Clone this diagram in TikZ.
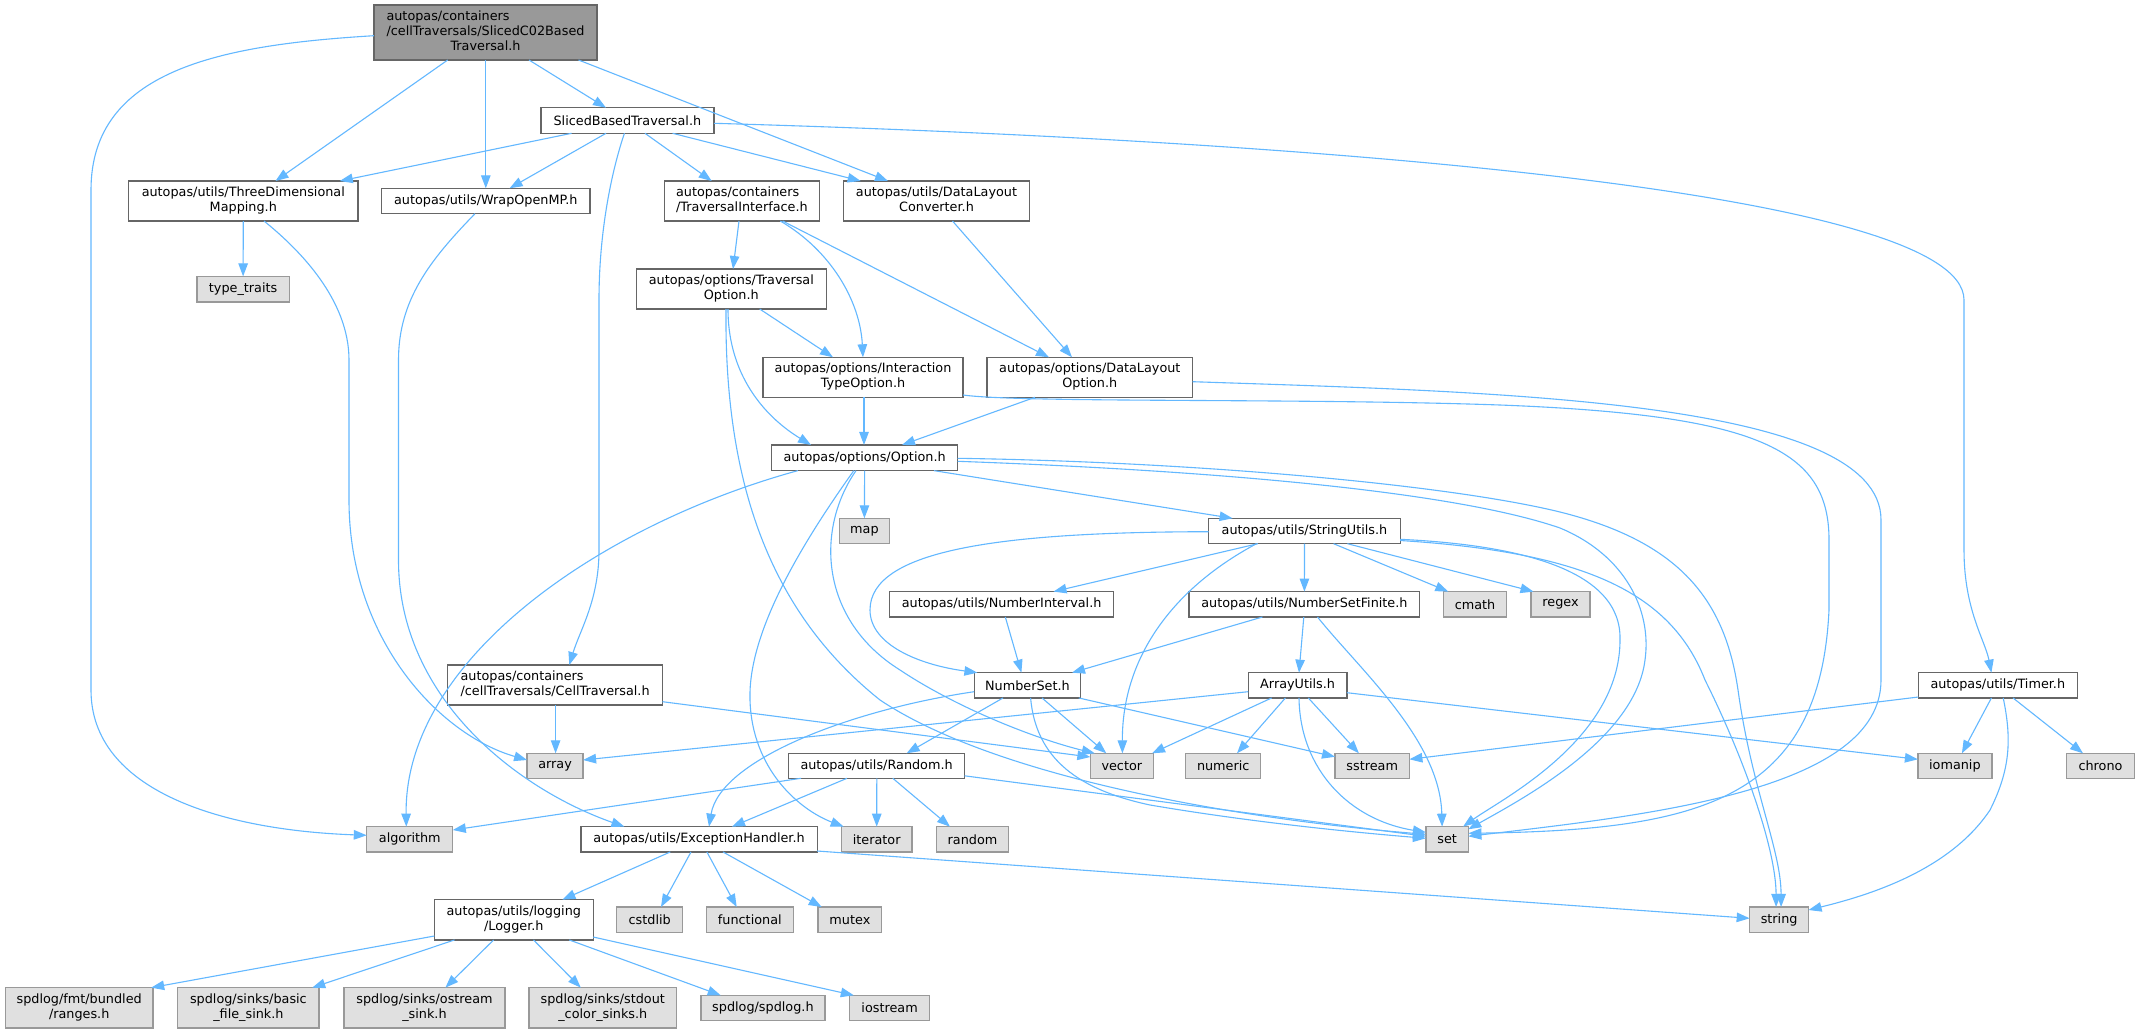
\documentclass[tikz,border=0pt]{standalone}
\usepackage{fontspec}
\setmainfont{DejaVu Sans}
\usetikzlibrary{arrows.meta}
\definecolor{eblue}{HTML}{63B8FF}
\definecolor{bordc}{HTML}{666666}
\definecolor{extb}{HTML}{999999}
\definecolor{extf}{HTML}{E0E0E0}
\definecolor{rootf}{HTML}{999999}
\newcommand{\nf}{\fontsize{12.8pt}{15pt}\selectfont}
\newcommand{\twol}[2]{\begin{tabular}{@{}l@{}}#1\\\multicolumn{1}{@{}c@{}}{#2}\end{tabular}}
\newcommand{\threel}[3]{\begin{tabular}{@{}l@{}}#1\\#2\\\multicolumn{1}{@{}c@{}}{#3}\end{tabular}}
\begin{document}
\begin{tikzpicture}[x=1pt,y=-1pt,
  nbox/.style={draw=bordc, fill=white, line width=1.3pt, inner sep=0pt, font=\nf, text=black},
  xbox/.style={nbox, draw=extb, fill=extf},
  rootn/.style={nbox, fill=rootf},
  wh/.style 2 args={minimum width=#1pt, minimum height=#2pt},
  dep/.style={draw=eblue, line width=1.1pt, -{Triangle[length=13pt,width=9.5pt]}}]
\fill[white] (0,0) rectangle (2139,1033);
\path[use as bounding box] (0,0) rectangle (2139,1033);

% nodes
\node[rootn, wh={223}{55}] (root) at (485.5,32.5) {\threel{autopas/containers}{/cellTraversals/SlicedC02Based}{Traversal.h}};
\node[nbox, wh={173}{25.6}] (sliced) at (627.4,120.5) {SlicedBasedTraversal.h};
\node[nbox, wh={229.5}{40}] (threeD) at (243.3,201) {\twol{autopas/utils/ThreeDimensional}{Mapping.h}};
\node[nbox, wh={208.5}{25.4}] (wrap) at (485.8,201) {autopas/utils/WrapOpenMP.h};
\node[nbox, wh={155}{40}] (travIf) at (741.9,201) {\twol{autopas/containers}{/TraversalInterface.h}};
\node[nbox, wh={185.5}{40}] (dlConv) at (936.5,201) {\twol{autopas/utils/DataLayout}{Converter.h}};
\node[xbox, wh={92.3}{25.7}] (typeTr) at (243.1,289.2) {type\_traits};
\node[nbox, wh={190}{40}] (travOpt) at (731.3,289) {\twol{autopas/options/Traversal}{Option.h}};
\node[nbox, wh={200}{40}] (interOpt) at (863,377.3) {\twol{autopas/options/Interaction}{TypeOption.h}};
\node[nbox, wh={205.6}{40}] (dlOpt) at (1089.8,377.3) {\twol{autopas/options/DataLayout}{Option.h}};
\node[nbox, wh={186}{25.7}] (option) at (864.6,457.8) {autopas/options/Option.h};
\node[xbox, wh={50.5}{25.4}] (map) at (864.4,531) {map};
\node[nbox, wh={191.5}{25.4}] (strUt) at (1304.5,531) {autopas/utils/StringUtils.h};
\node[nbox, wh={224}{25.4}] (numInt) at (1001.6,604.3) {autopas/utils/NumberInterval.h};
\node[nbox, wh={230.8}{25.4}] (numSF) at (1304.4,604.3) {autopas/utils/NumberSetFinite.h};
\node[xbox, wh={63}{25.4}] (cmath) at (1475,604.3) {cmath};
\node[xbox, wh={59}{25.4}] (regex) at (1560.5,604.3) {regex};
\node[nbox, wh={214.8}{40}] (cellTr) at (555.1,685) {\twol{autopas/containers}{/cellTraversals/CellTraversal.h}};
\node[nbox, wh={106.5}{25.3}] (numSet) at (1027.4,685.3) {NumberSet.h};
\node[nbox, wh={98.7}{25.3}] (arrUt) at (1297.6,685.3) {ArrayUtils.h};
\node[nbox, wh={158.8}{25.3}] (timer) at (1997.8,685.3) {autopas/utils/Timer.h};
\node[xbox, wh={56}{25}] (array) at (555.1,765.8) {array};
\node[nbox, wh={175.9}{25}] (randomH) at (876.6,765.8) {autopas/utils/Random.h};
\node[xbox, wh={62.9}{25}] (vector) at (1121.8,765.8) {vector};
\node[xbox, wh={74.8}{25}] (numeric) at (1223.2,765.8) {numeric};
\node[xbox, wh={74.4}{25}] (sstream) at (1372.2,765.8) {sstream};
\node[xbox, wh={74}{25}] (iomanip) at (1954.9,765.8) {iomanip};
\node[xbox, wh={67.4}{25}] (chrono) at (2100.5,765.8) {chrono};
\node[xbox, wh={86}{25.3}] (algorithm) at (409.8,839.3) {algorithm};
\node[nbox, wh={236.3}{25.3}] (excH) at (699,839.3) {autopas/utils/ExceptionHandler.h};
\node[xbox, wh={70.7}{25.3}] (iterator) at (876.7,839.3) {iterator};
\node[xbox, wh={72}{25.3}] (randomStd) at (972.5,839.3) {random};
\node[xbox, wh={42.4}{25.3}] (set) at (1447.1,839.3) {set};
\node[nbox, wh={158.9}{40.3}] (logger) at (513.8,919.8) {\twol{autopas/utils/logging}{/Logger.h}};
\node[xbox, wh={66}{25.6}] (cstdlib) at (649.7,919.8) {cstdlib};
\node[xbox, wh={86.8}{25.6}] (functional) at (749.8,919.8) {functional};
\node[xbox, wh={63.8}{25.6}] (mutex) at (849.9,919.8) {mutex};
\node[xbox, wh={58.9}{25.6}] (string) at (1779.1,919.8) {string};
\node[xbox, wh={147.4}{40.3}] (ranges) at (79.2,1007.8) {\twol{spdlog/fmt/bundled}{/ranges.h}};
\node[xbox, wh={141.4}{40.3}] (basic) at (248.4,1007.8) {\twol{spdlog/sinks/basic}{\_file\_sink.h}};
\node[xbox, wh={161.2}{40.3}] (ostream) at (424.5,1007.8) {\twol{spdlog/sinks/ostream}{\_sink.h}};
\node[xbox, wh={147.9}{40.3}] (stdout) at (602.8,1007.8) {\twol{spdlog/sinks/stdout}{\_color\_sinks.h}};
\node[xbox, wh={124}{25.4}] (spdlog) at (762.9,1008) {spdlog/spdlog.h};
\node[xbox, wh={80}{25.4}] (iostream) at (889.6,1008) {iostream};

% edges from root
\draw[dep] ([shift={(-111.5,3.2)}]root.center) .. controls (220,45) and (91,70) .. (91,190) -- (91,690) .. controls (91,790) and (220,830) .. ([shift={(-43,-4)}]algorithm.center);
\draw[dep] ([shift={(-37.8,27.5)}]root.center) -- ([shift={(32.2,-20)}]threeD.center);
\draw[dep] ([shift={(0.3,27.5)}]root.center) -- ([shift={(0,-12.7)}]wrap.center);
\draw[dep] ([shift={(43.5,27.5)}]root.center) -- ([shift={(-21.4,-12.8)}]sliced.center);
\draw[dep] ([shift={(93,27.5)}]root.center) -- ([shift={(-48.5,-20)}]dlConv.center);

% SlicedBasedTraversal
\draw[dep] ([shift={(-55.8,12.8)}]sliced.center) -- ([shift={(96.5,-20)}]threeD.center);
\draw[dep] ([shift={(-21.4,12.8)}]sliced.center) -- ([shift={(23.8,-12.7)}]wrap.center);
\draw[dep] ([shift={(17.6,12.8)}]sliced.center) -- ([shift={(-30.2,-20)}]travIf.center);
\draw[dep] ([shift={(45.2,12.8)}]sliced.center) -- ([shift={(-75.8,-20)}]dlConv.center);
\draw[dep] ([shift={(-3,12.8)}]sliced.center) .. controls (612,170) and (599,230) .. (599,300) -- (599,550) .. controls (599,600) and (580,630) .. ([shift={(14.2,-20)}]cellTr.center);
\draw[dep] ([shift={(86.6,2.8)}]sliced.center) .. controls (1300,140) and (1964,190) .. (1964,300) -- (1964,550) .. controls (1964,610) and (1985,640) .. ([shift={(-6.4,-12.65)}]timer.center);

% ThreeDimensionalMapping, WrapOpenMP
\draw[dep] ([shift={(0,20)}]threeD.center) -- ([shift={(0,-12.85)}]typeTr.center);
\draw[dep] ([shift={(20.7,20)}]threeD.center) .. controls (300,250) and (349,300) .. (349,360) -- (349,500) .. controls (349,640) and (440,735) .. ([shift={(-28,-5.8)}]array.center);
\draw[dep] ([shift={(-10.8,12.7)}]wrap.center) .. controls (430,260) and (398.5,300) .. (398.5,360) -- (398.5,560) .. controls (398.5,700) and (520,790) .. ([shift={(-74.6,-12.65)}]excH.center);

% TraversalInterface, DataLayoutConverter
\draw[dep] ([shift={(-2.9,20)}]travIf.center) -- ([shift={(1.7,-20)}]travOpt.center);
\draw[dep] ([shift={(38.4,20)}]travIf.center) .. controls (830,250) and (860,300) .. ([shift={(0,-20)}]interOpt.center);
\draw[dep] ([shift={(40.7,20)}]travIf.center) -- ([shift={(-40.8,-20)}]dlOpt.center);
\draw[dep] ([shift={(16,20)}]dlConv.center) -- ([shift={(-17.8,-20)}]dlOpt.center);

% TraversalOption
\draw[dep] ([shift={(28.4,20)}]travOpt.center) -- ([shift={(-30,-20)}]interOpt.center);
\draw[dep] ([shift={(-3.3,20)}]travOpt.center) .. controls (728,380) and (770,420) .. ([shift={(-53.6,-12.85)}]option.center);
\draw[dep] ([shift={(-5.3,20)}]travOpt.center) .. controls (724,500) and (780,620) .. (880,700) .. controls (1000,780) and (1250,820) .. ([shift={(-21.2,-5)}]set.center);

% InteractionTypeOption, DataLayoutOption
\draw[dep] ([shift={(1,20)}]interOpt.center) -- ([shift={(-0.6,-12.85)}]option.center);
\draw[dep] ([shift={(100.1,17.7)}]interOpt.center) .. controls (1020,403) and (1300,398) .. (1500,405) .. controls (1760,415) and (1829,450) .. (1829,540) -- (1829,610) .. controls (1820,800) and (1700,830) .. ([shift={(21.2,-6)}]set.center);
\draw[dep] ([shift={(-54.8,20)}]dlOpt.center) -- ([shift={(37.4,-12.85)}]option.center);
\draw[dep] ([shift={(102.8,4.4)}]dlOpt.center) .. controls (1500,392) and (1881,400) .. (1881,520) -- (1881,680) .. controls (1881,790) and (1650,815) .. ([shift={(21.2,-3)}]set.center);

% Option.h
\draw[dep] ([shift={(-66.8,12.85)}]option.center) .. controls (600,525) and (404,660) .. ([shift={(-3.5,-12.65)}]algorithm.center);
\draw[dep] ([shift={(0,12.85)}]option.center) -- ([shift={(0,-12.7)}]map.center);
\draw[dep] ([shift={(69.4,12.85)}]option.center) -- ([shift={(-71.9,-12.7)}]strUt.center);
\draw[dep] ([shift={(-10.8,12.85)}]option.center) .. controls (790,560) and (748,640) .. (750,700) .. controls (752,770) and (800,810) .. ([shift={(-33,-12.65)}]iterator.center);
\draw[dep] ([shift={(-8.6,12.85)}]option.center) .. controls (815,530) and (820,620) .. (900,670) .. controls (960,710) and (1040,740) .. ([shift={(-27,-12.5)}]vector.center);
\draw[dep] ([shift={(93,3.5)}]option.center) .. controls (1200,470) and (1450,490) .. (1560,528) .. controls (1625,555) and (1652,610) .. (1645,660) .. controls (1635,740) and (1520,800) .. ([shift={(21.2,-10)}]set.center);
\draw[dep] ([shift={(93,0.5)}]option.center) .. controls (1200,462) and (1450,485) .. (1560,512) .. controls (1680,542) and (1725,600) .. (1738,690) .. controls (1752,790) and (1781,850) .. ([shift={(2,-12.85)}]string.center);

% StringUtils
\draw[dep] ([shift={(95.7,8.3)}]strUt.center) .. controls (1520,545) and (1622,570) .. (1620,640) .. controls (1620,740) and (1500,800) .. ([shift={(16,-12.65)}]set.center);
\draw[dep] ([shift={(95.7,9.5)}]strUt.center) .. controls (1580,552) and (1670,590) .. (1705,680) .. controls (1745,760) and (1776,850) .. ([shift={(-3,-12.85)}]string.center);
\draw[dep] ([shift={(-95.8,0.7)}]strUt.center) .. controls (1000,532) and (870,550) .. (870,610) .. controls (870,645) and (920,665) .. ([shift={(-50,-12.65)}]numSet.center);
\draw[dep] ([shift={(-46.7,12.7)}]strUt.center) -- ([shift={(51.9,-12.7)}]numInt.center);
\draw[dep] ([shift={(0,12.7)}]strUt.center) -- ([shift={(0,-12.7)}]numSF.center);
\draw[dep] ([shift={(-48,12.7)}]strUt.center) .. controls (1170,590) and (1122,660) .. ([shift={(0.6,-12.5)}]vector.center);
\draw[dep] ([shift={(29.1,12.7)}]strUt.center) -- ([shift={(-26.7,-12.7)}]cmath.center);
\draw[dep] ([shift={(42.9,12.7)}]strUt.center) -- ([shift={(-27,-12.7)}]regex.center);

% NumberInterval, NumberSetFinite
\draw[dep] ([shift={(3.7,12.7)}]numInt.center) -- ([shift={(-6,-12.65)}]numSet.center);
\draw[dep] ([shift={(-42,12.7)}]numSF.center) -- ([shift={(44.6,-12.65)}]numSet.center);
\draw[dep] ([shift={(-0.6,12.7)}]numSF.center) -- ([shift={(1.4,-12.65)}]arrUt.center);
\draw[dep] ([shift={(13.1,12.7)}]numSF.center) .. controls (1360,670) and (1440,740) .. ([shift={(-5,-12.65)}]set.center);

% NumberSet
\draw[dep] ([shift={(-24.4,12.65)}]numSet.center) -- ([shift={(30,-12.5)}]randomH.center);
\draw[dep] ([shift={(14.6,12.65)}]numSet.center) -- ([shift={(-15.5,-12.5)}]vector.center);
\draw[dep] ([shift={(51.4,12.65)}]numSet.center) -- ([shift={(-37.2,-9)}]sstream.center);
\draw[dep] ([shift={(3.2,12.65)}]numSet.center) .. controls (1036,760) and (1080,790) .. (1150,805) .. controls (1250,822) and (1350,832) .. ([shift={(-21.2,-1)}]set.center);
\draw[dep] ([shift={(-53.3,6.4)}]numSet.center) .. controls (850,710) and (720,760) .. ([shift={(10,-12.65)}]excH.center);

% ArrayUtils
\draw[dep] ([shift={(-26,12.65)}]arrUt.center) -- ([shift={(30.2,-12.5)}]vector.center);
\draw[dep] ([shift={(-12.2,12.65)}]arrUt.center) -- ([shift={(13.8,-12.5)}]numeric.center);
\draw[dep] ([shift={(10.7,12.65)}]arrUt.center) -- ([shift={(-13.3,-12.5)}]sstream.center);
\draw[dep] ([shift={(1.4,12.65)}]arrUt.center) .. controls (1300,770) and (1350,820) .. ([shift={(-21.2,-7)}]set.center);
\draw[dep] ([shift={(-49.4,6.4)}]arrUt.center) -- ([shift={(28,-5.8)}]array.center);
\draw[dep] ([shift={(49.3,7.4)}]arrUt.center) -- ([shift={(-37,-6.5)}]iomanip.center);

% Random.h
\draw[dep] ([shift={(-75.6,12.5)}]randomH.center) -- ([shift={(43,-9.3)}]algorithm.center);
\draw[dep] ([shift={(-29.6,12.5)}]randomH.center) -- ([shift={(33,-12.65)}]excH.center);
\draw[dep] ([shift={(0.2,12.5)}]randomH.center) -- ([shift={(0,-12.65)}]iterator.center);
\draw[dep] ([shift={(16.2,12.5)}]randomH.center) -- ([shift={(-22.5,-12.65)}]randomStd.center);
\draw[dep] ([shift={(87.9,10)}]randomH.center) -- ([shift={(-21.2,-3)}]set.center);

% ExceptionHandler
\draw[dep] ([shift={(-28.7,12.65)}]excH.center) -- ([shift={(48.6,-20.15)}]logger.center);
\draw[dep] ([shift={(-8,12.65)}]excH.center) -- ([shift={(11.3,-12.8)}]cstdlib.center);
\draw[dep] ([shift={(7.9,12.65)}]excH.center) -- ([shift={(-13.1,-12.8)}]functional.center);
\draw[dep] ([shift={(24,12.65)}]excH.center) -- ([shift={(-28.2,-12.8)}]mutex.center);
\draw[dep] ([shift={(118.1,11.7)}]excH.center) -- ([shift={(-29.45,-1.5)}]string.center);

% Logger
\draw[dep] ([shift={(-79.45,16.2)}]logger.center) -- ([shift={(72,-20.15)}]ranges.center);
\draw[dep] ([shift={(-59.3,20.15)}]logger.center) -- ([shift={(63.8,-20.15)}]basic.center);
\draw[dep] ([shift={(-20.2,20.15)}]logger.center) -- ([shift={(20.9,-20.15)}]ostream.center);
\draw[dep] ([shift={(19.7,20.15)}]logger.center) -- ([shift={(-22,-20.15)}]stdout.center);
\draw[dep] ([shift={(55.5,20.15)}]logger.center) -- ([shift={(-42.2,-12.7)}]spdlog.center);
\draw[dep] ([shift={(79.4,17.2)}]logger.center) -- ([shift={(-35.8,-12.7)}]iostream.center);

% CellTraversal
\draw[dep] ([shift={(0.5,20)}]cellTr.center) -- ([shift={(0.5,-12.5)}]array.center);
\draw[dep] ([shift={(107.4,16.7)}]cellTr.center) -- ([shift={(-31.45,-8.8)}]vector.center);

% Timer
\draw[dep] ([shift={(-6.4,12.65)}]timer.center) -- ([shift={(7,-12.5)}]iomanip.center);
\draw[dep] ([shift={(15.2,12.65)}]timer.center) -- ([shift={(-17.5,-12.5)}]chrono.center);
\draw[dep] ([shift={(-79.4,11.7)}]timer.center) -- ([shift={(37.2,-6.5)}]sstream.center);
\draw[dep] ([shift={(5.4,12.65)}]timer.center) .. controls (2012,740) and (2010,770) .. (1990,810) .. controls (1950,870) and (1870,895) .. ([shift={(29.45,-9.8)}]string.center);
\end{tikzpicture}
\end{document}
